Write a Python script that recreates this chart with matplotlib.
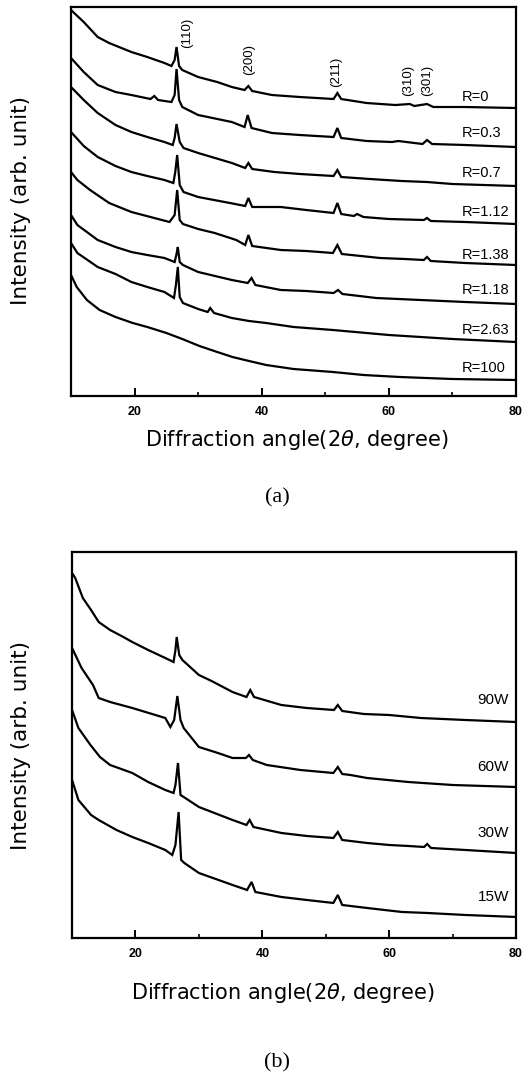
"""XRD patterns of the films: (a) versus gas ratio R, (b) versus RF power."""

import matplotlib
matplotlib.use('Agg')
import matplotlib.pyplot as plt
from matplotlib.ticker import MultipleLocator

plt.rcParams['font.family'] = ['Liberation Sans', 'DejaVu Sans']

# ---------------------------------------------------------------
# Panel (a): traces (angle in degree, arb. unit)
# ---------------------------------------------------------------
ang_r0 = [10, 12, 14.2, 16, 19.5, 22, 24.7, 25.8, 26.3, 26.6, 27.0, 27.5, 30, 33,
          35.3, 37.3, 37.9, 38.5, 41.6, 46, 51.3, 51.9, 52.5, 56.5, 61, 63.3, 64,
          66, 67, 72, 80]
int_r0 = [386, 374, 359, 353, 344, 339, 333, 330, 336, 349, 330, 326, 319, 314,
          309, 306, 310, 305, 301, 299, 297, 303, 297, 293, 291, 292, 290,
          292, 289, 289, 288]

ang_r03 = [10, 12, 14.2, 17, 19.5, 22.5, 23.1, 23.7, 25.8, 26.3, 26.6, 27.0, 27.5,
           30, 35.3, 37.3, 37.8, 38.4, 41.6, 46, 51.3, 51.9, 52.5, 56.5, 60.5,
           61.5, 65.3, 66, 66.8, 72, 80]
int_r03 = [338, 324, 311, 304, 301, 297, 300, 296, 294, 301, 327, 296, 289,
           281, 274, 269, 281, 268, 263, 261, 259, 268, 258, 255, 254,
           255, 252, 256, 252, 251, 249]

ang_r07 = [10, 12, 14.2, 17, 19.5, 22, 24.7, 26, 26.3, 26.6, 27.1, 27.7, 30, 35.3,
           37.4, 37.9, 38.5, 42, 46, 51.3, 51.9, 52.5, 57, 62, 66, 70, 80]
int_r07 = [309, 296, 283, 271, 264, 259, 254, 251, 258, 272, 254, 248, 243, 233,
           228, 233, 227, 224, 222, 220, 226, 219, 217, 215, 214, 212, 210]

ang_r112 = [10, 12, 14.2, 17, 19.5, 22, 24.7, 26.1, 26.4, 26.7, 27.1, 27.7, 30, 35,
            37.4, 37.9, 38.5, 43, 47, 51.3, 51.9, 52.5, 54.5, 55, 56, 60, 65.5,
            66, 66.6, 72, 80]
int_r112 = [264, 250, 239, 230, 224, 220, 216, 213, 224, 241, 211, 204, 199, 193,
            190, 198, 189, 189, 186, 183, 193, 182, 180, 182, 179, 177, 176,
            178, 175, 174, 172]

ang_r138 = [10, 11, 13, 16, 19.5, 22.5, 25.5, 26.3, 26.7, 27.1, 27.6, 30, 32.6, 36,
            37.4, 37.9, 38.5, 43, 47, 51.2, 51.9, 52.6, 58.6, 62.5, 65.5, 66,
            66.6, 72, 80]
int_r138 = [224, 216, 206, 193, 184, 179, 174, 181, 206, 176, 172, 167, 163, 156,
            151, 161, 150, 146, 145, 143, 151, 142, 138, 137, 136, 139,
            135, 133, 131]

ang_r118 = [10, 11, 14.2, 17, 19.5, 22, 24.7, 26.3, 26.6, 26.8, 27.1, 27.6, 30,
            35.3, 37.8, 38.4, 39, 43, 47, 51.3, 52, 52.7, 58, 65, 72, 80]
int_r118 = [181, 171, 156, 149, 144, 141, 138, 134, 142, 149, 134, 131, 124,
            116, 113, 118, 111, 106, 105, 103, 106, 102, 98, 96, 94, 92]

ang_r263 = [10, 11, 14.2, 17, 19.5, 22, 24.7, 26.2, 26.5, 26.8, 27.1, 27.6, 30,
            31.5, 31.9, 32.5, 35.3, 38, 40.7, 45, 51.2, 60, 70, 80]
int_r263 = [153, 143, 129, 122, 114, 109, 104, 98, 111, 129, 99, 93, 87,
            84, 88, 83, 78, 75, 73, 69, 66, 61, 57, 54]

ang_r100 = [10, 10.9, 12.5, 14.5, 17, 19.7, 22, 25, 27.5, 30.2, 33, 35.4, 38,
            40.7, 45, 51.2, 56, 61.7, 70, 80]
int_r100 = [121, 109, 96, 86, 79, 73, 69, 63, 57, 50, 44, 39, 35,
            31, 27, 24, 21, 19, 17, 16]

labels_a = ['R=0', 'R=0.3', 'R=0.7', 'R=1.12', 'R=1.38', 'R=1.18', 'R=2.63', 'R=100']
label_level_a = [299, 263, 223, 184, 141, 106, 66, 28]

peak_names = ['(110)', '(200)', '(211)', '(310)', '(301)']
peak_angle = [28.2, 38.0, 51.7, 63.0, 66.0]
peak_level = [363, 337, 324, 316, 316]

# ---------------------------------------------------------------
# Panel (b): traces versus RF power
# ---------------------------------------------------------------
ang_90w = [10, 10.5, 11.7, 13, 14.2, 16, 17.8, 19.5, 22, 24.7, 26, 26.3, 26.5,
           26.9, 27.4, 30, 32, 35.3, 37.5, 38.1, 38.7, 43, 47, 51.3, 51.9, 52.6,
           56, 60, 65, 72, 80]
int_90w = [365, 360, 340, 328, 316, 308, 302, 296, 288, 280, 276, 288, 301,
           283, 278, 263, 257, 246, 241, 248, 241, 233, 230, 228, 233, 227,
           224, 223, 220, 218, 216]

ang_60w = [10, 11.5, 13.3, 14.2, 16, 19.5, 24.7, 25.5, 26.1, 26.6, 27.1, 27.6, 30,
           33, 35.3, 37.4, 37.9, 38.5, 40.7, 46, 51.2, 51.9, 52.6, 53.9, 56.5,
           63, 70, 80]
int_60w = [290, 270, 253, 240, 236, 230, 220, 211, 218, 242, 218, 210, 191,
           185, 180, 180, 183, 178, 173, 168, 165, 171, 164, 163, 160,
           156, 153, 151]

ang_30w = [10, 11, 12.9, 14.4, 16, 19.5, 22, 24.7, 26, 26.3, 26.7, 27.1, 27.6, 30,
           35.3, 37.5, 38, 38.6, 43, 47, 51.2, 51.9, 52.6, 56.5, 60, 63, 65.5,
           66, 66.6, 72, 80]
int_30w = [228, 210, 193, 181, 173, 165, 156, 148, 145, 153, 175, 143, 141, 131,
           118, 113, 118, 111, 105, 102, 100, 106, 98, 95, 93, 92, 91,
           94, 90, 88, 85]

ang_15w = [10, 11, 13, 14.2, 17, 19.5, 22, 24.7, 25.8, 26.3, 26.8, 27.2, 27.7, 30,
           35.3, 37.6, 38.3, 38.9, 43, 47, 51.2, 51.9, 52.6, 56.5, 62, 66, 72, 80]
int_15w = [158, 138, 123, 118, 108, 101, 95, 88, 83, 93, 126, 78, 75, 65,
           53, 48, 56, 46, 41, 38, 35, 43, 33, 30, 26, 25, 23, 21]

labels_b = ['90W', '60W', '30W', '15W']
label_level_b = [238, 171, 105, 41]

TITLE_FONT = ['DejaVu Sans', 'Liberation Sans']
SERIF_FONT = ['Liberation Serif', 'DejaVu Serif']


def style_axes(ax, ytop):
    """Frame, ticks and limits shared by both panels."""
    ax.set_xlim(10, 80)
    ax.set_ylim(0, ytop)
    ax.set_yticks([])
    ax.xaxis.set_minor_locator(MultipleLocator(10))
    ax.set_xticks([20, 40, 60, 80])
    ax.tick_params(axis='x', which='major', direction='in', length=6, width=1.4,
                   labelsize=9, pad=7, top=False)
    ax.tick_params(axis='x', which='minor', direction='in', length=3, width=1.2,
                   top=False)
    for lab in ax.get_xticklabels():
        lab.set_fontweight('bold')
    for sp in ax.spines.values():
        sp.set_linewidth(1.6)


fig = plt.figure(figsize=(5.26, 10.79), dpi=100)

# Panel (a)
ax_a = fig.add_axes([0.135, 0.633, 0.846, 0.3605])
traces_a = [(ang_r0, int_r0), (ang_r03, int_r03), (ang_r07, int_r07),
            (ang_r112, int_r112), (ang_r138, int_r138), (ang_r118, int_r118),
            (ang_r263, int_r263), (ang_r100, int_r100)]
for ang, inten in traces_a:
    ax_a.plot(ang, inten, color='black', lw=1.6, solid_joinstyle='miter')
for lab, lev in zip(labels_a, label_level_a):
    ax_a.text(71.5, lev, lab, fontsize=10.5, va='center', ha='left')
for name, a, lev in zip(peak_names, peak_angle, peak_level):
    ax_a.text(a, lev, name, fontsize=9.5, rotation=90, ha='center', va='center')
style_axes(ax_a, 389)

# Panel (b)
ax_b = fig.add_axes([0.137, 0.1307, 0.844, 0.3577])
traces_b = [(ang_90w, int_90w), (ang_60w, int_60w), (ang_30w, int_30w),
            (ang_15w, int_15w)]
for ang, inten in traces_b:
    ax_b.plot(ang, inten, color='black', lw=1.6, solid_joinstyle='miter')
for lab, lev in zip(labels_b, label_level_b):
    ax_b.text(78.9, lev, lab, fontsize=11, va='center', ha='right')
style_axes(ax_b, 386)

# Axis titles and panel captions
xlab = 'Diffraction angle(2$\\theta$, degree)'
fig.text(0.565, 0.592, xlab, fontsize=15, ha='center', va='center',
         family=TITLE_FONT)
fig.text(0.537, 0.0797, xlab, fontsize=15, ha='center', va='center',
         family=TITLE_FONT)
fig.text(0.040, 0.8146, 'Intensity (arb. unit)', fontsize=15.5, rotation=90,
         ha='center', va='center', family=TITLE_FONT)
fig.text(0.040, 0.3095, 'Intensity (arb. unit)', fontsize=15.5, rotation=90,
         ha='center', va='center', family=TITLE_FONT)
fig.text(0.527, 0.5385, '(a)', fontsize=16, ha='center', va='center',
         family=SERIF_FONT)
fig.text(0.527, 0.0148, '(b)', fontsize=16, ha='center', va='center',
         family=SERIF_FONT)

fig.savefig('out.png', dpi=100)
